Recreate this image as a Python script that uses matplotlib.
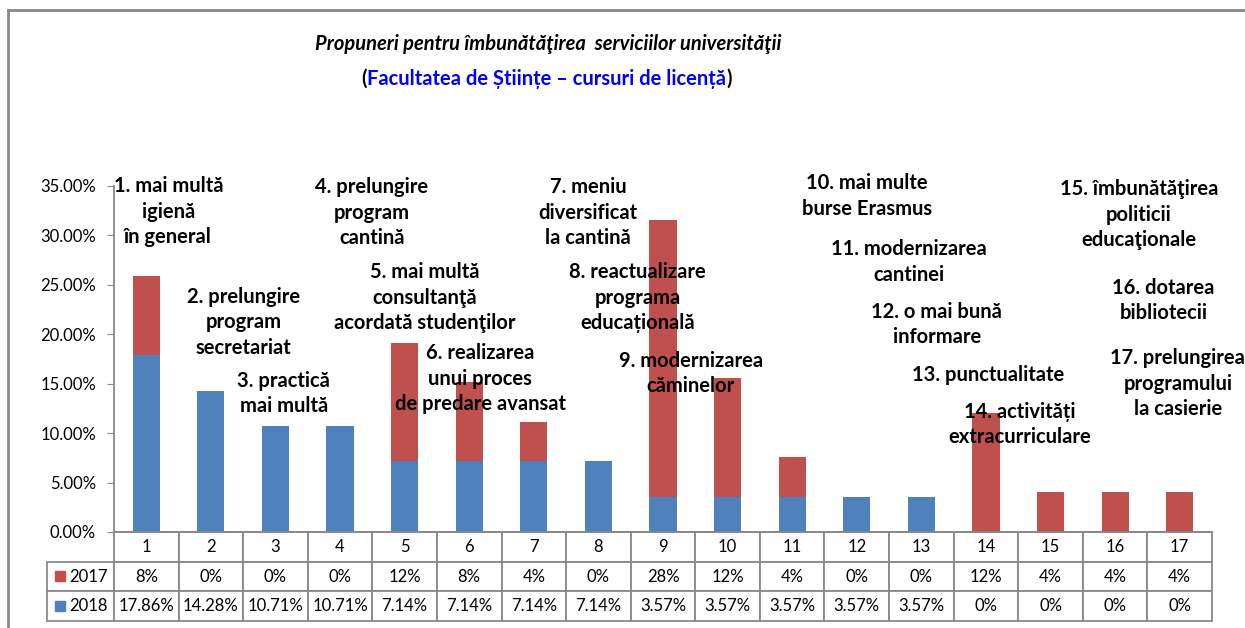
import matplotlib
matplotlib.use("Agg")
import matplotlib.pyplot as plt
from matplotlib.lines import Line2D

# categorii si valori (procente)
cats = list(range(1, 18))
y2017 = [8, 0, 0, 0, 12, 8, 4, 0, 28, 12, 4, 0, 0, 12, 4, 4, 4]
y2018 = [17.86, 14.28, 10.71, 10.71, 7.14, 7.14, 7.14, 7.14, 3.57, 3.57,
         3.57, 3.57, 3.57, 0, 0, 0, 0]
series_names = ["2017", "2018"]

labels = [
    "1. mai multă\nigienă\nîn general",
    "2. prelungire\nprogram\nsecretariat",
    "3. practică\nmai multă",
    "4. prelungire\nprogram\ncantină",
    "5. mai multă\nconsultanţă\nacordată studenţilor",
    "6. realizarea\nunui proces\nde predare avansat",
    "7. meniu\ndiversificat\nla cantină",
    "8. reactualizare\nprograma\neducațională",
    "9. modernizarea\ncăminelor",
    "10. mai multe\nburse Erasmus",
    "11. modernizarea\ncantinei",
    "12. o mai bună\ninformare",
    "13. punctualitate",
    "14. activități\nextracurriculare",
    "15. îmbunătăţirea\npoliticii\neducaţionale",
    "16. dotarea\nbibliotecii",
    "17. prelungirea\nprogramului\nla casierie",
]
# pozitia etichetelor (x in categorii, y in %)
label_pos = [(1.34, 32.4), (2.51, 21.2), (3.13, 14.0), (4.49, 32.3),
             (5.31, 23.7), (6.17, 15.5), (7.84, 32.3), (8.61, 23.7),
             (9.43, 16.0), (12.16, 34.0), (12.81, 27.3), (13.24, 21.0),
             (14.04, 15.9), (14.52, 10.9), (16.37, 32.1), (16.75, 23.4),
             (16.97, 15.0)]

BLUE = "#4f81bd"
RED = "#c0504d"
GRAY = "#898989"
fam = ["Lato", "DejaVu Sans"]
plt.rcParams["font.family"] = fam

W, H = 1245, 628
fig = plt.figure(figsize=(W / 100, H / 100), dpi=100)
ax = fig.add_axes([114 / W, 96 / H, 1098 / W, 346 / H])

ax.bar(cats, y2018, width=0.42, color=BLUE)
ax.bar(cats, y2017, width=0.42, bottom=y2018, color=RED)

ax.set_xlim(0.5, 17.5)
ax.set_ylim(0, 35)
ax.set_yticks(range(0, 36, 5))
ax.set_yticklabels([f"{v:.2f}%" for v in range(0, 36, 5)], fontsize=12)
ax.set_xticks([])
ax.tick_params(axis="y", length=5, color=GRAY, pad=8)
for s in ["top", "right"]:
    ax.spines[s].set_visible(False)
for s in ["left", "bottom"]:
    ax.spines[s].set_color(GRAY)
    ax.spines[s].set_linewidth(1.3)

for txt, (x, y) in zip(labels, label_pos):
    ax.text(x, y, txt, ha="center", va="center", fontsize=14.5,
            fontweight="bold", linespacing=1.33, clip_on=False)

# tabel de date
def fmt(v, dec):
    return "0%" if v == 0 else (f"{v:.{dec}f}%")

cell_text = [[fmt(v, 0) for v in y2017], [fmt(v, 2) for v in y2018]]
lw_label = 67 / 1098
tab = ax.table(cellText=cell_text, rowLabels=series_names,
               colLabels=[str(c) for c in cats],
               colWidths=[1 / 17] * 17,
               cellLoc="center", rowLoc="right", colLoc="center",
               bbox=[0, -89 / 346, 1, 89 / 346])
tab._autoColumns = []
tab.auto_set_font_size(False)
tab.set_fontsize(12)
for (r, c), cell in tab.get_celld().items():
    if c == -1:
        cell.set_width(lw_label)
    cell.set_edgecolor(GRAY)
    cell.set_linewidth(1.3)

for col, yy in [(RED, -0.1286), (BLUE, -0.2145)]:
    ax.plot([-0.049], [yy], marker="s", ms=7, color=col,
            transform=ax.transAxes, clip_on=False)

# titlu
fig.text(0.440, 0.930, "Propuneri pentru îmbunătăţirea  serviciilor universităţii",
         ha="center", va="center", fontsize=14.5, fontweight="bold",
         style="italic")
t_mid = fig.text(0.439, 0.874, "Facultatea de Științe – cursuri de licență",
                 ha="center", va="center", fontsize=14.5, fontweight="bold",
                 color="#0000ff")
ax.annotate("(", xy=(0, 0), xycoords=t_mid, ha="right", va="bottom",
            fontsize=14.5, fontweight="bold")
ax.annotate(")", xy=(1, 0), xycoords=t_mid, ha="left", va="bottom",
            fontsize=14.5, fontweight="bold")

# chenar
fig.add_artist(Line2D([8 / W, 8 / W], [0, 1 - 10 / H], color=GRAY, lw=2,
                      transform=fig.transFigure))
fig.add_artist(Line2D([8 / W, 1], [1 - 10 / H, 1 - 10 / H], color=GRAY, lw=2,
                      transform=fig.transFigure))

fig.savefig("out.png", dpi=100)
